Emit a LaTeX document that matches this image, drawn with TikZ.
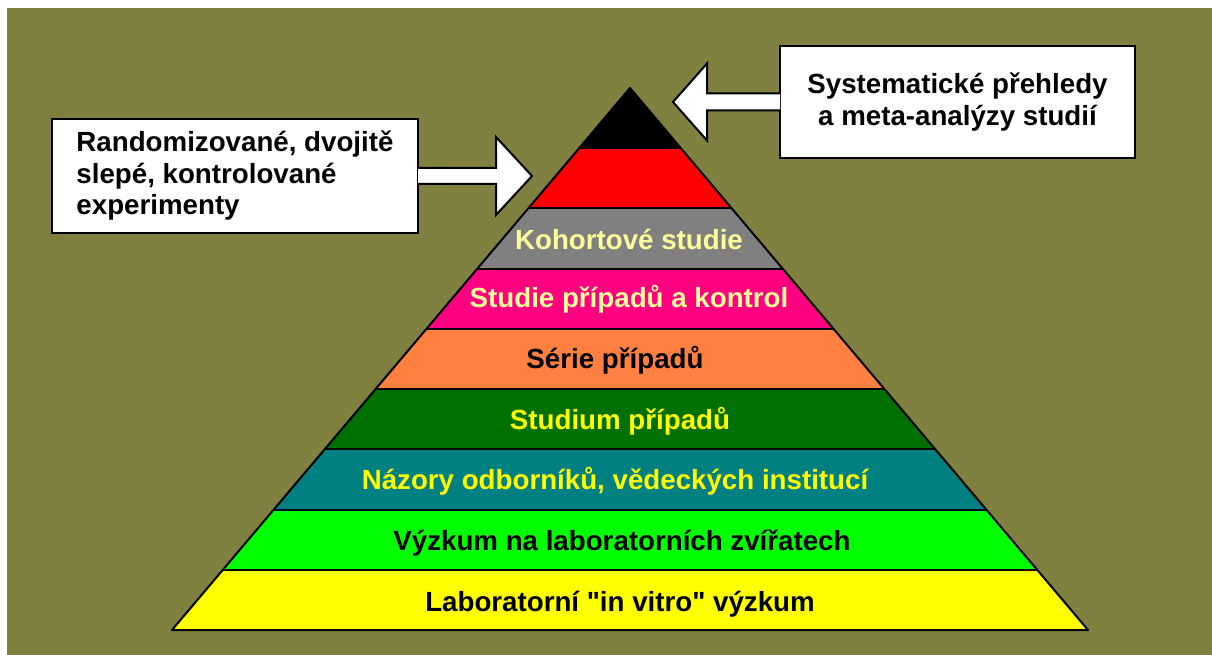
\documentclass[tikz,border=0pt]{standalone}
\usepackage{fontspec}
\setmainfont{Liberation Sans}[Ligatures=TeXOff]
\definecolor{bgolive}{HTML}{808040}
\definecolor{kgray}{HTML}{808080}
\definecolor{kpink}{HTML}{FF0080}
\definecolor{korange}{HTML}{FF8040}
\definecolor{kdgreen}{HTML}{007000}
\definecolor{kteal}{HTML}{008080}
\definecolor{kgreen}{HTML}{00FF00}
\definecolor{kyellow}{HTML}{FFFF00}
\definecolor{lyellow}{HTML}{FFFF99}
\begin{document}
\begin{tikzpicture}[x=1pt, y=-1pt, line width=2pt,
	box/.style={draw, fill=white, rectangle, inner sep=0pt, font=\fontsize{27.7}{31.5}\selectfont\bfseries},
	lbl/.style={anchor=base, font=\fontsize{27.7}{32}\selectfont\bfseries}]
			\useasboundingbox (0,0) rectangle (1212,655);
			\fill[white] (0,0) rectangle (1212,655);
			\fill[bgolive] (7,8) rectangle (1212,655);

			% pyramid bands, apex (630,88), base y=630
			\foreach \c [count=\i from 0] in {black,red,kgray,kpink,korange,kdgreen,kteal,kgreen,kyellow} {
				\pgfmathsetmacro{\ya}{88+60.22*\i}
				\pgfmathsetmacro{\yb}{\ya+60.22}
				\fill[\c] ({630-0.845*(\ya-88)},\ya) -- ({630+0.845*(\ya-88)},\ya) -- ({630+0.845*(\yb-88)},\yb) -- ({630-0.845*(\yb-88)},\yb) -- cycle;
			}
			\draw node[coordinate] (top) at (630,88) {};
			\draw node[coordinate] (bl) at (172,630) {};
			\draw node[coordinate] (br) at (1088,630) {};
			\draw[line join=round] (top) -- (br) -- (bl) -- cycle;
			\foreach \i in {1,...,8} {
				\pgfmathsetmacro{\ya}{88+60.22*\i}
				\draw ({630-0.845*(\ya-88)},\ya) -- ({630+0.845*(\ya-88)},\ya);
			}

			\draw node[lbl, lyellow] (3) at (629,249) {Kohortové studie};
			\draw node[lbl, lyellow] (4) at (629,307) {Studie případů a kontrol};
			\draw node[lbl, black] (5) at (615,368) {Série případů};
			\draw node[lbl, kyellow] (6) at (620,429) {Studium případů};
			\draw node[lbl, kyellow] (7) at (615,489) {Názory odborníků, vědeckých institucí};
			\draw node[lbl, black] (8) at (622,550) {Výzkum na laboratorních zvířatech};
			\draw node[lbl, black] (9) at (620,611) {Laboratorní "in vitro" výzkum};

			% callout boxes
			\draw node[box, align=left, minimum width=366, minimum height=114] (rand) at (235,176) {Randomizované, dvojitě\\slepé, kontrolované\\experimenty};
			\draw node[box, align=center, minimum width=355, minimum height=112] (syst) at (957.5,102) {Systematické přehledy\\a meta-analýzy studií};
			\coordinate (t1) at (532,176);
			\coordinate (t2) at (673,102);

			\draw[fill=white, line join=miter] ([xshift=-1,yshift=8]rand.east) -- ([xshift=77,yshift=8]rand.east) -- ([xshift=77,yshift=39]rand.east) -- (t1) -- ([xshift=77,yshift=-39]rand.east) -- ([xshift=77,yshift=-8]rand.east) -- ([xshift=-1,yshift=-8]rand.east);
			\draw[fill=white, line join=miter] ([xshift=1,yshift=8.5]syst.west) -- ([xshift=-72,yshift=8.5]syst.west) -- ([xshift=-72,yshift=38.5]syst.west) -- (t2) -- ([xshift=-72,yshift=-38.5]syst.west) -- ([xshift=-72,yshift=-8.5]syst.west) -- ([xshift=1,yshift=-8.5]syst.west);
		\end{tikzpicture}
\end{document}
